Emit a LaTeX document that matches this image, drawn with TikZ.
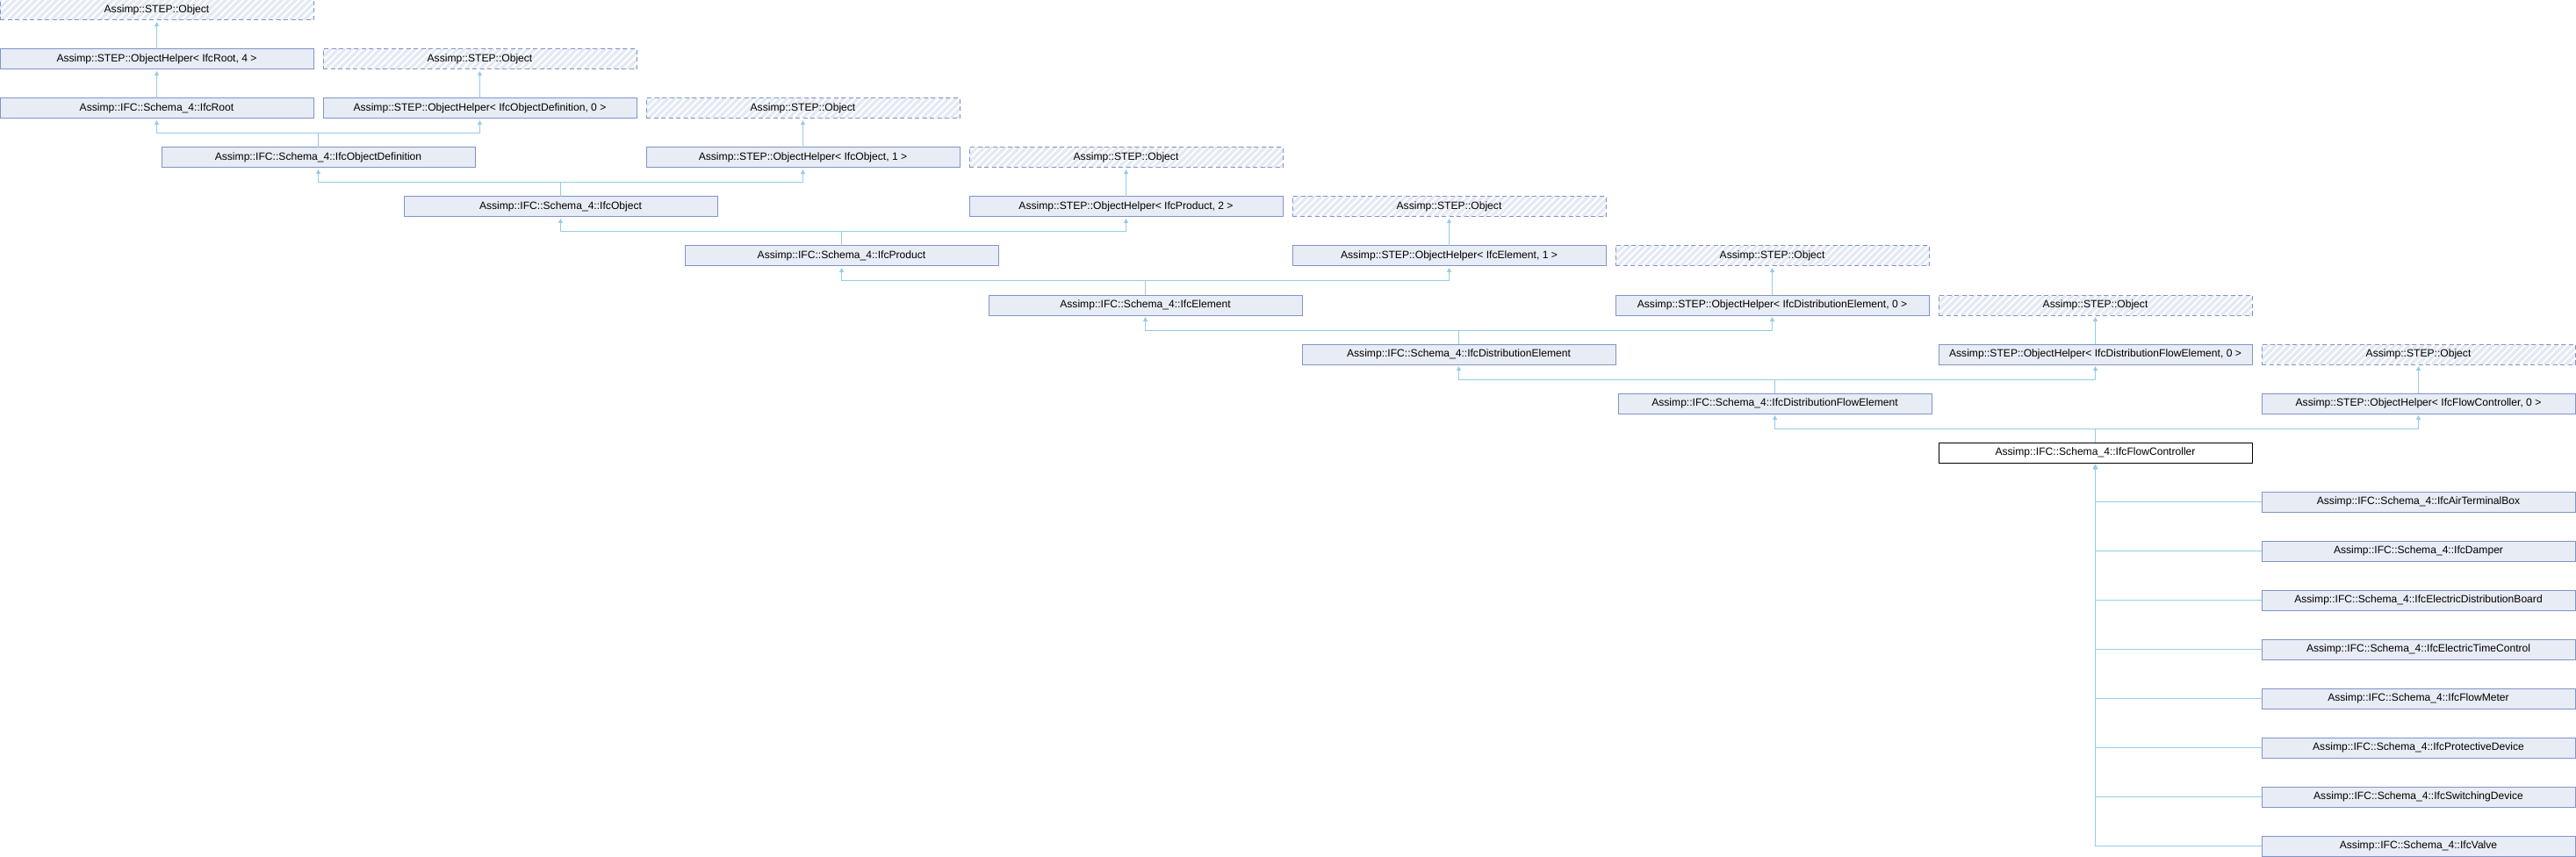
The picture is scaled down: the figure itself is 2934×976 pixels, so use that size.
\documentclass[tikz,border=0pt]{standalone}
\usepackage{fontspec}
\setmainfont{Liberation Sans}
\usetikzlibrary{arrows.meta}
\definecolor{boxfill}{RGB}{232,236,245}
\definecolor{boxline}{RGB}{128,148,202}
\definecolor{edgecol}{RGB}{150,203,234}
\definecolor{hatchcol}{RGB}{229,233,243}
\tikzset{
  cls/.style={draw=boxline, fill=boxfill, line width=1pt, minimum width=357pt,
    minimum height=23pt, anchor=north west, inner sep=0pt, outer sep=0pt,
    font=\fontsize{12.1}{14}\selectfont},
  ext/.style={cls, fill=white, dash pattern=on 5pt off 3.5pt,
    path picture={\foreach \i in {0,8,...,400}{\draw[hatchcol,line width=3.5pt,solid]
      ([xshift={(\i-30)*1pt}]path picture bounding box.south west) -- ++(40pt,40pt);}}},
  cur/.style={cls, draw=black, fill=white},
  inh/.style={draw=edgecol, line width=1pt, -{Triangle[width=5pt,length=5pt]}, shorten >=2pt},
}
\begin{document}
\begin{tikzpicture}[x=1pt,y=-1pt]
\useasboundingbox (0,0) rectangle (2934,976);
% row 0
\node[ext] (o0) at (0,0) {Assimp::STEP::Object};
% row 1
\node[cls] (h1) at (0,56) {Assimp::STEP::ObjectHelper<\ IfcRoot, 4\ >};
\node[ext] (o1) at (368,56) {Assimp::STEP::Object};
% row 2
\node[cls] (root) at (0,112) {Assimp::IFC::Schema\_4::IfcRoot};
\node[cls] (h2) at (368,112) {Assimp::STEP::ObjectHelper<\ IfcObjectDefinition, 0\ >};
\node[ext] (o2) at (736,112) {Assimp::STEP::Object};
% row 3
\node[cls] (objdef) at (184,168) {Assimp::IFC::Schema\_4::IfcObjectDefinition};
\node[cls] (h3) at (736,168) {Assimp::STEP::ObjectHelper<\ IfcObject, 1\ >};
\node[ext] (o3) at (1104,168) {Assimp::STEP::Object};
% row 4
\node[cls] (obj) at (460,224) {Assimp::IFC::Schema\_4::IfcObject};
\node[cls] (h4) at (1104,224) {Assimp::STEP::ObjectHelper<\ IfcProduct, 2\ >};
\node[ext] (o4) at (1472,224) {Assimp::STEP::Object};
% row 5
\node[cls] (prod) at (780,280) {Assimp::IFC::Schema\_4::IfcProduct};
\node[cls] (h5) at (1472,280) {Assimp::STEP::ObjectHelper<\ IfcElement, 1\ >};
\node[ext] (o5) at (1840,280) {Assimp::STEP::Object};
% row 6
\node[cls] (elem) at (1126,336) {Assimp::IFC::Schema\_4::IfcElement};
\node[cls] (h6) at (1840,336) {Assimp::STEP::ObjectHelper<\ IfcDistributionElement, 0\ >};
\node[ext] (o6) at (2208,336) {Assimp::STEP::Object};
% row 7
\node[cls] (distel) at (1483,392) {Assimp::IFC::Schema\_4::IfcDistributionElement};
\node[cls] (h7) at (2208,392) {Assimp::STEP::ObjectHelper<\ IfcDistributionFlowElement, 0\ >};
\node[ext] (o7) at (2576,392) {Assimp::STEP::Object};
% row 8
\node[cls] (distflow) at (1843,448) {Assimp::IFC::Schema\_4::IfcDistributionFlowElement};
\node[cls] (h8) at (2576,448) {Assimp::STEP::ObjectHelper<\ IfcFlowController, 0\ >};
% row 9
\node[cur] (fc) at (2208,504) {Assimp::IFC::Schema\_4::IfcFlowController};
% children
\node[cls] (k1) at (2576,560) {Assimp::IFC::Schema\_4::IfcAirTerminalBox};
\node[cls] (k2) at (2576,616) {Assimp::IFC::Schema\_4::IfcDamper};
\node[cls] (k3) at (2576,672) {Assimp::IFC::Schema\_4::IfcElectricDistributionBoard};
\node[cls] (k4) at (2576,728) {Assimp::IFC::Schema\_4::IfcElectricTimeControl};
\node[cls] (k5) at (2576,784) {Assimp::IFC::Schema\_4::IfcFlowMeter};
\node[cls] (k6) at (2576,840) {Assimp::IFC::Schema\_4::IfcProtectiveDevice};
\node[cls] (k7) at (2576,896) {Assimp::IFC::Schema\_4::IfcSwitchingDevice};
\node[cls] (k8) at (2576,952) {Assimp::IFC::Schema\_4::IfcValve};
% edges: helpers to Object
\draw[inh] (h1.north) -- (o0.south);
\draw[inh] (h2.north) -- (o1.south);
\draw[inh] (h3.north) -- (o2.south);
\draw[inh] (h4.north) -- (o3.south);
\draw[inh] (h5.north) -- (o4.south);
\draw[inh] (h6.north) -- (o5.south);
\draw[inh] (h7.north) -- (o6.south);
\draw[inh] (h8.north) -- (o7.south);
% single chain
\draw[inh] (root.north) -- (h1.south);
% two parents
\draw[inh] (objdef.north) -- ++(0,-16) -| (root.south);
\draw[inh] (objdef.north) -- ++(0,-16) -| (h2.south);
\draw[inh] (obj.north) -- ++(0,-16) -| (objdef.south);
\draw[inh] (obj.north) -- ++(0,-16) -| (h3.south);
\draw[inh] (prod.north) -- ++(0,-16) -| (obj.south);
\draw[inh] (prod.north) -- ++(0,-16) -| (h4.south);
\draw[inh] (elem.north) -- ++(0,-16) -| (prod.south);
\draw[inh] (elem.north) -- ++(0,-16) -| (h5.south);
\draw[inh] (distel.north) -- ++(0,-16) -| (elem.south);
\draw[inh] (distel.north) -- ++(0,-16) -| (h6.south);
\draw[inh] (distflow.north) -- ++(0,-16) -| (distel.south);
\draw[inh] (distflow.north) -- ++(0,-16) -| (h7.south);
\draw[inh] (fc.north) -- ++(0,-16) -| (distflow.south);
\draw[inh] (fc.north) -- ++(0,-16) -| (h8.south);
% children
\foreach \k in {k1,k2,k3,k4,k5,k6,k7,k8}{\draw[inh] (\k.west) -| (fc.south);}
\end{tikzpicture}
\end{document}
